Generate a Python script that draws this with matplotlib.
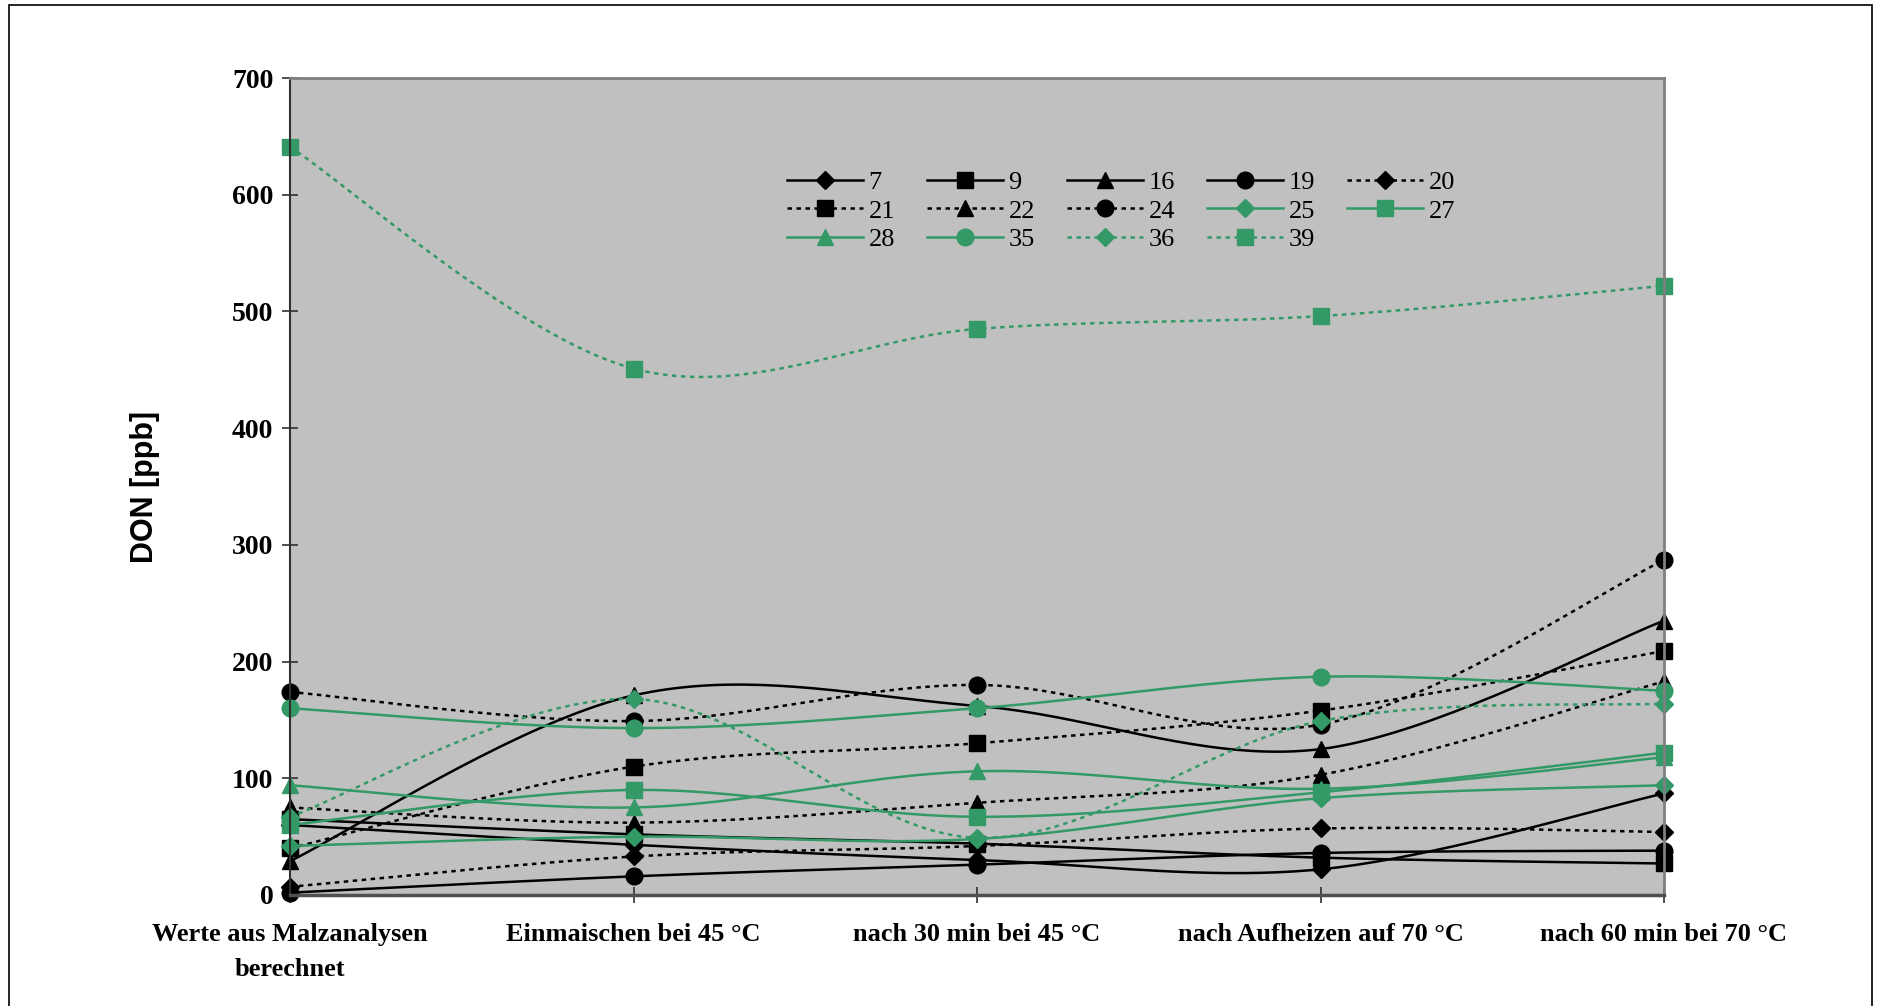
import numpy as np
import matplotlib
matplotlib.use('Agg')
import matplotlib.pyplot as plt

# categories (mashing steps)
categories = ['Werte aus Malzanalysen\nberechnet', 'Einmaischen bei 45 °C',
              'nach 30 min bei 45 °C', 'nach Aufheizen auf 70 °C',
              'nach 60 min bei 70 °C']

# DON values [ppb] per sample
s7 = [60, 43, 30, 22, 87]
s9 = [65, 52, 44, 32, 27]
s16 = [29, 171, 162, 125, 235]
s19 = [2, 16, 26, 36, 38]
s20 = [7, 33, 42, 57, 54]
s21 = [40, 110, 130, 158, 209]
s22 = [75, 62, 79, 103, 183]
s24 = [174, 149, 180, 146, 287]
s25 = [42, 50, 48, 83, 94]
s27 = [60, 90, 67, 88, 122]
s28 = [94, 75, 106, 91, 118]
s35 = [160, 143, 160, 187, 175]
s36 = [67, 168, 49, 149, 164]
s39 = [641, 451, 485, 496, 522]

GREEN = '#339966'
DOTS = (0, (1.8, 1.8))


def smooth(xs, ys, n=40):
    # Excel-like smoothed line (Catmull-Rom as Bezier)
    p = np.column_stack([xs, ys]).astype(float)
    p = np.vstack([p[0], p, p[-1]])
    out = []
    t = np.linspace(0, 1, n, endpoint=False)[:, None]
    for i in range(1, len(p) - 2):
        p0, p1, p2, p3 = p[i - 1], p[i], p[i + 1], p[i + 2]
        c1 = p1 + (p2 - p0) / 6
        c2 = p2 - (p3 - p1) / 6
        seg = ((1 - t) ** 3) * p1 + 3 * ((1 - t) ** 2) * t * c1 + 3 * (1 - t) * t ** 2 * c2 + t ** 3 * p2
        out.append(seg)
    out.append(p[-2][None, :])
    out = np.vstack(out)
    return out[:, 0], out[:, 1]


series = [
    ('7', s7, 'black', '-', 'D', 9),
    ('9', s9, 'black', '-', 's', 11),
    ('16', s16, 'black', '-', '^', 12),
    ('19', s19, 'black', '-', 'o', 12),
    ('20', s20, 'black', DOTS, 'D', 9),
    ('21', s21, 'black', DOTS, 's', 11),
    ('22', s22, 'black', DOTS, '^', 12),
    ('24', s24, 'black', DOTS, 'o', 12),
    ('25', s25, GREEN, '-', 'D', 9),
    ('27', s27, GREEN, '-', 's', 11),
    ('28', s28, GREEN, '-', '^', 12),
    ('35', s35, GREEN, '-', 'o', 12),
    ('36', s36, GREEN, DOTS, 'D', 9),
    ('39', s39, GREEN, DOTS, 's', 11),
]

fig = plt.figure(figsize=(18.81, 10.06), dpi=100)
ax = fig.add_axes([290 / 1881, 111 / 1006, 1374 / 1881, 817 / 1006])
ax.set_facecolor('#C0C0C0')

x = np.arange(len(categories))
n = 40
handles = {}
for name, vals, col, ls, mk, ms in series:
    sx, sy = smooth(x, vals, n)
    line, = ax.plot(sx, sy, color=col, linestyle=ls, linewidth=1.8,
                    marker=mk, markersize=ms, markevery=list(range(0, len(sx), n)),
                    markerfacecolor=col, markeredgecolor=col, label=name,
                    clip_on=False)
    handles[name] = line

ax.set_xlim(0, 4)
ax.set_ylim(0, 700)
ax.set_yticks(range(0, 701, 100))
ax.set_xticks(x)
ax.set_xticklabels(categories, fontsize=19, fontweight='bold', family='Liberation Serif',
                   linespacing=1.7)
for lab in ax.get_yticklabels():
    lab.set_fontsize(20)
    lab.set_fontweight('bold')
    lab.set_family('Liberation Serif')
ax.tick_params(axis='both', direction='inout', length=12, width=1.2, color='#303030')
ax.tick_params(axis='x', pad=14)
ax.tick_params(axis='y', pad=6)
for side in ['top', 'right']:
    ax.spines[side].set_color('#808080')
    ax.spines[side].set_linewidth(2)
ax.spines['left'].set_color('#303030')
ax.spines['left'].set_linewidth(1.5)
ax.spines['bottom'].set_color('#505050')
ax.spines['bottom'].set_linewidth(2.5)

ax.set_ylabel('DON [ppb]', fontsize=22, fontweight='bold', family='Liberation Sans', labelpad=52)

# legend filled column-wise so it reads row-wise like the original
order = ['7', '21', '28', '9', '22', '35', '16', '24', '36', '19', '25', '39', '20', '27']
leg = ax.legend([handles[k] for k in order], order, ncol=5, loc='upper left',
                bbox_to_anchor=(0.352, 0.903), frameon=False,
                prop={'family': 'Liberation Serif', 'size': 19},
                borderpad=0, handlelength=2.9, handletextpad=0.2, columnspacing=1.2,
                labelspacing=0.2, numpoints=1, markerscale=1.0)

# outer frame around the chart
frame = plt.Rectangle((9 / 1881, -0.05), 1863 / 1881, 1.05 - 5 / 1006,
                      transform=fig.transFigure, fill=False, edgecolor='black', linewidth=1.2)
fig.add_artist(frame)

fig.savefig('out.png', dpi=100)
